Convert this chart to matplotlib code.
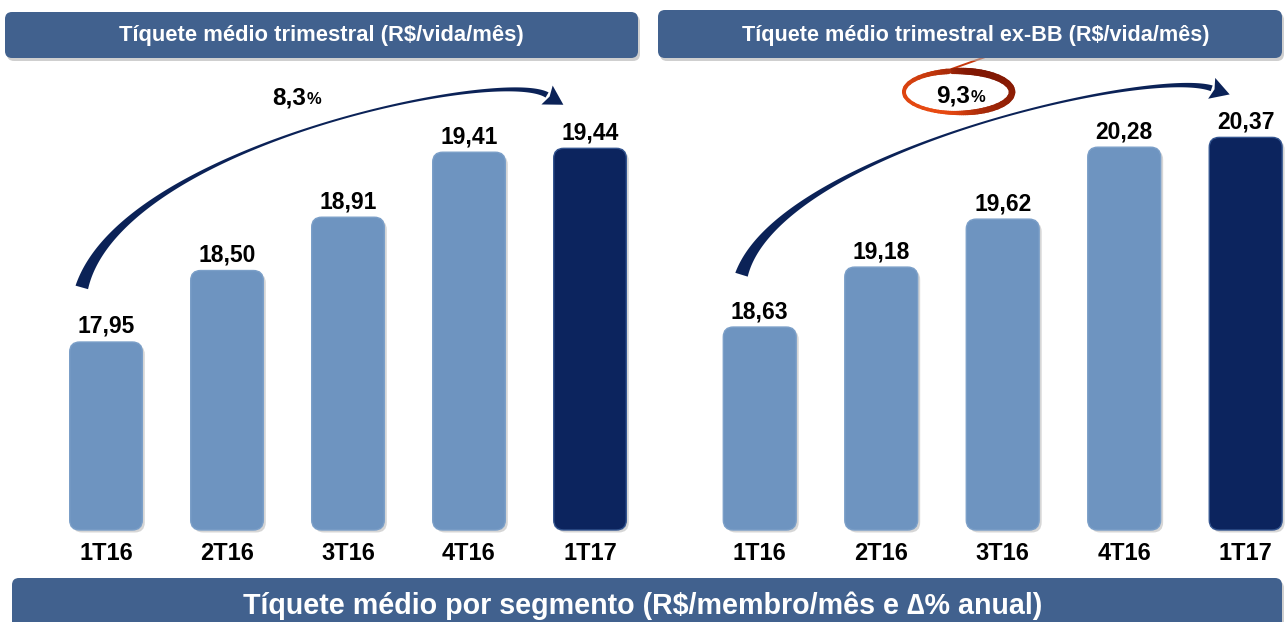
import numpy as np
import matplotlib
matplotlib.use('Agg')
import matplotlib.pyplot as plt
from matplotlib.patches import FancyBboxPatch, Polygon, Arc
import matplotlib.transforms as mtransforms

plt.rcParams['font.family'] = ['Liberation Sans', 'DejaVu Sans']

# ---------------- data ----------------
categories = ['1T16', '2T16', '3T16', '4T16', '1T17']
ticket_total = [17.95, 18.50, 18.91, 19.41, 19.44]
ticket_ex_bb = [18.63, 19.18, 19.62, 20.28, 20.37]
title_left = 'Tíquete médio trimestral (R$/vida/mês)'
title_right = 'Tíquete médio trimestral ex-BB (R$/vida/mês)'
title_bottom = 'Tíquete médio por segmento (R$/membro/mês e \u2206% anual)'
growth_left = '8,3'
growth_right = '9,3'

# ---------------- style ----------------
W, H = 1287, 622
LIGHT = '#6E94C0'
DARK = '#0C245E'
BANNER = '#41618E'
NAVY = '#0B2257'

fig = plt.figure(figsize=(W / 100, H / 100), dpi=100)
fig.patch.set_facecolor('white')

bg = fig.add_axes([0, 0, 1, 1], zorder=0)
bg.set_xlim(0, W)
bg.set_ylim(H, 0)
bg.axis('off')


def px_axes(x0, x1, y0, y1, z=1):
    return fig.add_axes([x0 / W, (H - y1) / H, (x1 - x0) / W, (y1 - y0) / H], zorder=z)


def draw_panel(ax, values, ylim, xlim):
    ax.set_xlim(*xlim)
    ax.set_ylim(*ylim)
    ax.patch.set_alpha(0)
    for s in ax.spines.values():
        s.set_visible(False)
    bbox = ax.get_window_extent()
    px_x = bbox.width / (xlim[1] - xlim[0])
    px_y = bbox.height / (ylim[1] - ylim[0])
    aspect = px_x / px_y
    x = np.arange(len(values))
    base = ylim[0]
    bars = ax.bar(x, np.array(values) - base, bottom=base, width=0.6, color='none')
    shadow_tr = mtransforms.offset_copy(ax.transData, fig=fig, x=2.5, y=-2.5, units='dots')
    r = 10 / px_x
    for i, (b, v) in enumerate(zip(bars, values)):
        last = i == len(values) - 1
        col = DARK if last else LIGHT
        bx, by, bw, bh = b.get_x(), b.get_y(), b.get_width(), b.get_height()
        b.set_visible(False)
        sh = FancyBboxPatch((bx, by), bw, bh, boxstyle=f'round,pad=0,rounding_size={r}',
                            mutation_aspect=aspect, transform=shadow_tr,
                            fc='#8a8a8a', ec='none', alpha=0.35, zorder=1, clip_on=False)
        ax.add_patch(sh)
        p = FancyBboxPatch((bx, by), bw, bh, boxstyle=f'round,pad=0,rounding_size={r}',
                           mutation_aspect=aspect, fc=col,
                           ec='#33548f' if last else '#7b9fc8', lw=1.0, zorder=2, clip_on=False)
        ax.add_patch(p)
        ax.annotate(f'{v:.2f}'.replace('.', ','), (x[i], v), xytext=(0, 6.5),
                    textcoords='offset points', ha='center', va='baseline',
                    fontsize=16.5, fontweight='bold', color='black', zorder=3)
    ax.set_xticks(x, categories, fontsize=17, fontweight='bold')
    ax.tick_params(axis='x', length=0, pad=9)
    ax.set_yticks([])


def to_img(ax, x, y):
    d = ax.transData.transform((x, y))
    return np.array([d[0], H - d[1]])


def swoosh(S, c1off, c2off, E, w0=13, wmid=0.9, w1=6, head_len=19, head_w=22, color=NAVY):
    C1 = S + np.array(c1off)
    C2 = E + np.array(c2off)
    t = np.linspace(0, 1, 300)[:, None]
    B = (1 - t) ** 3 * S + 3 * (1 - t) ** 2 * t * C1 + 3 * (1 - t) * t ** 2 * C2 + t ** 3 * E
    dB = 3 * (1 - t) ** 2 * (C1 - S) + 6 * (1 - t) * t * (C2 - C1) + 3 * t ** 2 * (E - C2)
    dn = dB / np.linalg.norm(dB, axis=1)[:, None]
    n = np.column_stack([-dn[:, 1], dn[:, 0]])
    tt = t[:, 0]
    w = wmid + (w0 - wmid) * (1 - tt) ** 4 + (w1 - wmid) * tt ** 3.5
    upper = B + n * w[:, None] / 2
    lower = B - n * w[:, None] / 2
    poly = np.vstack([upper, lower[::-1]])
    bg.add_patch(Polygon(poly, closed=True, fc=color, ec='none', zorder=5))
    d = dn[-1]
    nn = np.array([-d[1], d[0]])
    tip = E + d * head_len
    head = np.array([E + nn * head_w / 2, tip, E - nn * head_w / 2, E + d * 3])
    bg.add_patch(Polygon(head, closed=True, fc=color, ec='none', zorder=5))


# ---------------- panels ----------------
axL = px_axes(45.5, 650.5, 70, 530, z=2)
draw_panel(axL, ticket_total, (16.504, 16.504 + 460 / 130), (-0.5, 4.5))

axR = px_axes(699, 1287, 70, 530, z=2)
draw_panel(axR, ticket_ex_bb, (16.768, 16.768 + 460 / 109), (-0.5, 4.34))

# ---------------- banners ----------------
def banner(x0, y0, w, h, text, fs, tx=None):
    sh = FancyBboxPatch((x0 + 2, y0 + 3), w, h, boxstyle='round,pad=0,rounding_size=7',
                        fc='#b0b0b0', ec='none', alpha=0.6, zorder=2)
    bg.add_patch(sh)
    p = FancyBboxPatch((x0, y0), w, h, boxstyle='round,pad=0,rounding_size=7',
                       fc=BANNER, ec='none', zorder=3)
    bg.add_patch(p)
    cx = x0 + w / 2 if tx is None else tx
    bg.text(cx, y0 + h / 2 + 1, text, ha='center', va='center', color='white',
            fontsize=fs, fontweight='bold', zorder=4)


# ellipse tail (under banner)
bg.plot([946, 988], [71, 56], color='#C8380C', lw=1.4, zorder=1, solid_capstyle='round')

banner(5, 12, 633, 46, title_left, 15.8)
banner(658, 10, 624, 48, title_right, 15.6, tx=976)
banner(12, 578, 1270, 70, '', 20)
bg.text(643, 606, title_bottom, ha='center', va='center', color='white',
        fontsize=20.6, fontweight='bold', zorder=4)

# ---------------- arrows ----------------
vL0, vL4 = ticket_total[0], ticket_total[-1]
SL = to_img(axL, -0.2, vL0 + 0.42)
EL = to_img(axL, 4 - 0.355, vL4 + 0.41)
swoosh(SL, (40, -142), (-47, -28), EL)

vR0, vR4 = ticket_ex_bb[0], ticket_ex_bb[-1]
SR = to_img(axR, -0.15, vR0 + 0.48)
ER = to_img(axR, 4 - 0.28, vR4 + 0.45)
swoosh(SR, (38, -123), (-62, -21), ER)

# ---------------- growth labels ----------------
bg.text(306, 104, growth_left, ha='right', va='baseline', fontsize=17.5, fontweight='bold', zorder=6)
bg.text(307, 104, '%', ha='left', va='baseline', fontsize=12, fontweight='bold', zorder=6)

bg.text(970, 102, growth_right, ha='right', va='baseline', fontsize=17.5, fontweight='bold', zorder=6)
bg.text(971, 102, '%', ha='left', va='baseline', fontsize=12, fontweight='bold', zorder=6)

# hand-drawn style ring around 9,3%
cx, cy, ew, eh = 958, 92, 108, 42
c_light = np.array([0.91, 0.29, 0.07])
c_dark = np.array([0.50, 0.09, 0.01])
thetas = np.arange(255, 255 + 350, 5)
for th in thetas:
    ang = np.deg2rad(th - 320)
    k = (np.cos(ang) + 1) / 2
    col = c_light * (1 - k) + c_dark * k
    lw = 2.6 + 2.4 * k
    bg.add_patch(Arc((cx, cy), ew, eh, theta1=th, theta2=th + 5.5,
                     color=col, lw=lw, zorder=6, capstyle='round'))

fig.savefig('out.png', dpi=100, facecolor='white')
